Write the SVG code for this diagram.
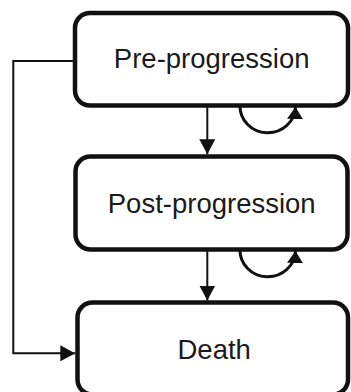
<svg xmlns="http://www.w3.org/2000/svg" width="351" height="392" viewBox="0 0 351 392">
<style>
.box{fill:#fff;stroke:#111;stroke-width:4.5}
.lbl{font-family:"Liberation Sans",Arial,sans-serif;font-size:27.5px;fill:#1a1a1a;text-anchor:middle}
.ln{fill:none;stroke:#111;stroke-width:2}
.loop{fill:none;stroke:#111;stroke-width:3}
</style>
<defs>
<marker id="ah" markerUnits="userSpaceOnUse" markerWidth="15" markerHeight="16" refX="15" refY="8" orient="auto" viewBox="0 0 15 16">
<path d="M0,0 L15,8 L0,16 z" fill="#111"/>
</marker>
<marker id="ahl" markerUnits="userSpaceOnUse" markerWidth="12" markerHeight="16" refX="12" refY="8" orient="auto" viewBox="0 0 12 16">
<path d="M0,0 L12,8 L0,16 z" fill="#111"/>
</marker>
</defs>
<g id="connectors">
<path class="ln" d="M207.3,105 V154.3" marker-end="url(#ah)"/>
<path class="ln" d="M207.3,249 V300.5" marker-end="url(#ah)"/>
<path class="ln" d="M75,61 H13.3 V353.3 H75.3" marker-end="url(#ah)"/>
<path class="loop" d="M240,105 A27,26 0 0 0 295.5,107" marker-end="url(#ahl)"/>
<path class="loop" d="M240,249 A27,26 0 0 0 295.5,251" marker-end="url(#ahl)"/>
</g>
<g id="pre">
<rect class="box" x="75" y="13" width="273" height="92.5" rx="15"/>
<text class="lbl" x="211.7" y="68.3">Pre-progression</text>
</g>
<g id="post">
<rect class="box" x="75.5" y="156.5" width="272" height="93" rx="15"/>
<text class="lbl" x="211.7" y="213.3">Post-progression</text>
</g>
<g id="death">
<rect class="box" x="77.5" y="302.5" width="270.5" height="92" rx="15"/>
<text class="lbl" x="214.2" y="359.3">Death</text>
</g>
</svg>
